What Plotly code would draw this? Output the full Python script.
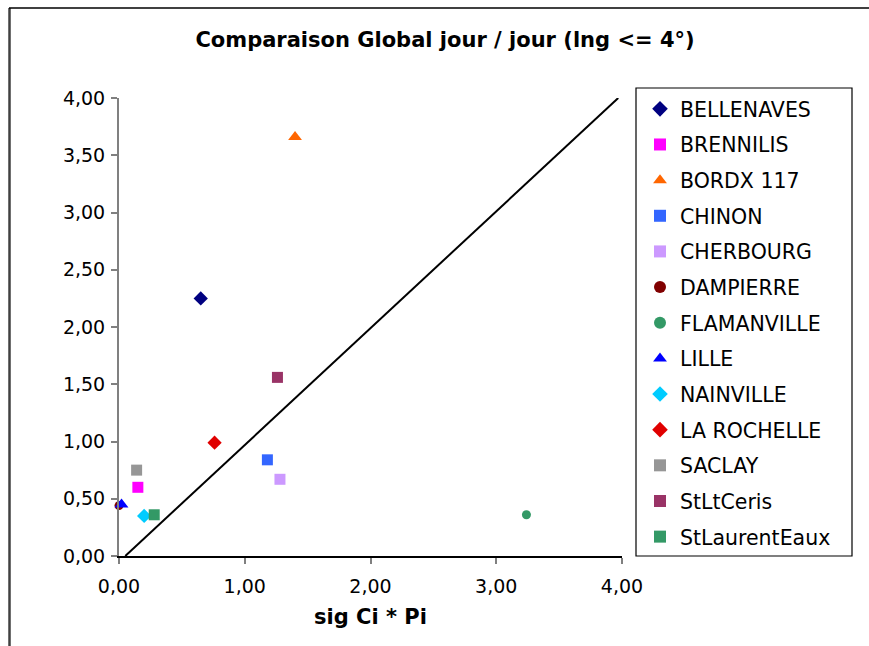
import plotly.graph_objects as go

names = ["BELLENAVES", "BRENNILIS", "BORDX 117", "CHINON", "CHERBOURG", "DAMPIERRE",
         "FLAMANVILLE", "LILLE", "NAINVILLE", "LA ROCHELLE", "SACLAY", "StLtCeris", "StLaurentEaux"]
x_vals = [0.65, 0.15, 1.40, 1.18, 1.28, 0.00, 3.24, 0.02, 0.20, 0.76, 0.14, 1.26, 0.28]
y_vals = [2.25, 0.60, 3.66, 0.84, 0.67, 0.44, 0.36, 0.45, 0.35, 0.99, 0.75, 1.56, 0.36]
colors = ["#000080", "#FF00FF", "#FF6600", "#3366FF", "#CC99FF", "#800000",
          "#339966", "#0000FF", "#00CCFF", "#E00000", "#969696", "#993366", "#339966"]
symbols = ["diamond", "square", "triangle-up", "square", "square", "circle",
           "circle", "triangle-up", "diamond", "diamond", "square", "square", "square"]
sizes = [11, 11, 12, 11, 11, 9, 9, 12, 11, 11, 11, 11, 11]
line_x = [0.05, 3.97]
line_y = [0.0, 4.0]
x_ticks = [0, 1, 2, 3, 4]
y_ticks = [0, 0.5, 1, 1.5, 2, 2.5, 3, 3.5, 4]

W, H = 869, 646
L, R, T, B = 119, 247, 98, 90
pw, ph = W - L - R, H - T - B

def px(x):
    return (x - L) / pw

def py(y):
    return (H - B - y) / ph

fig = go.Figure()
for i, n in enumerate(names):
    fig.add_trace(go.Scatter(
        x=[x_vals[i]], y=[y_vals[i]], mode="markers", name=n,
        legendgroup=n,
        marker=dict(symbol=symbols[i], color=colors[i], size=sizes[i], line=dict(width=0)),
        cliponaxis=False,
    ))
fig.add_trace(go.Scatter(x=line_x, y=line_y, mode="lines", showlegend=False,
                         line=dict(color="black", width=2)))

fig.update_layout(
    width=W, height=H,
    margin=dict(l=L, r=R, t=T, b=B),
    paper_bgcolor="white", plot_bgcolor="white",
    separators=",.",
    font=dict(family="DejaVu Sans", size=19, color="black"),
    title=dict(text="<b>Comparaison Global jour / jour (lng <= 4°)</b>",
               font=dict(family="DejaVu Sans", size=21, color="black"),
               x=px(445), xref="paper", xanchor="center",
               y=1 - 40 / H, yref="container", yanchor="middle"),
    showlegend=True,
    legend=dict(x=px(640), y=py(89), xanchor="left", yanchor="top",
                bgcolor="rgba(0,0,0,0)", borderwidth=0, maxheight=620,
                font=dict(family="DejaVu Sans", size=20.5, color="black"),
                traceorder="grouped", tracegroupgap=6, itemsizing="constant"),
    xaxis=dict(range=[0, 4], tickvals=x_ticks, tickformat=".2f", showgrid=False,
               zeroline=False, showline=True, linecolor="black", linewidth=2,
               ticks="outside", ticklen=6, tickcolor="#808080", tickwidth=1.5,
               ticklabelstandoff=6,
               tickfont=dict(size=19), title=dict(text="<b>sig Ci * Pi</b>",
               font=dict(size=21), standoff=14)),
    yaxis=dict(range=[0, 4], tickvals=y_ticks, tickformat=".2f", showgrid=False,
               zeroline=False, showline=True, linecolor="#808080", linewidth=2,
               ticks="outside", ticklen=6, tickcolor="#808080", tickwidth=1.5,
               ticklabelstandoff=2,
               tickfont=dict(size=19)),
    shapes=[
        dict(type="rect", xref="paper", yref="paper", x0=px(636), x1=px(852),
             y0=py(556), y1=py(88), line=dict(color="black", width=1.2)),
        dict(type="line", xref="paper", yref="paper", x0=px(9.5), x1=px(9.5),
             y0=py(8), y1=py(700), line=dict(color="#404040", width=2.5)),
        dict(type="line", xref="paper", yref="paper", x0=px(9), x1=px(900),
             y0=py(8), y1=py(8), line=dict(color="black", width=1.5)),
    ],
)
fig.write_html("out.html")
